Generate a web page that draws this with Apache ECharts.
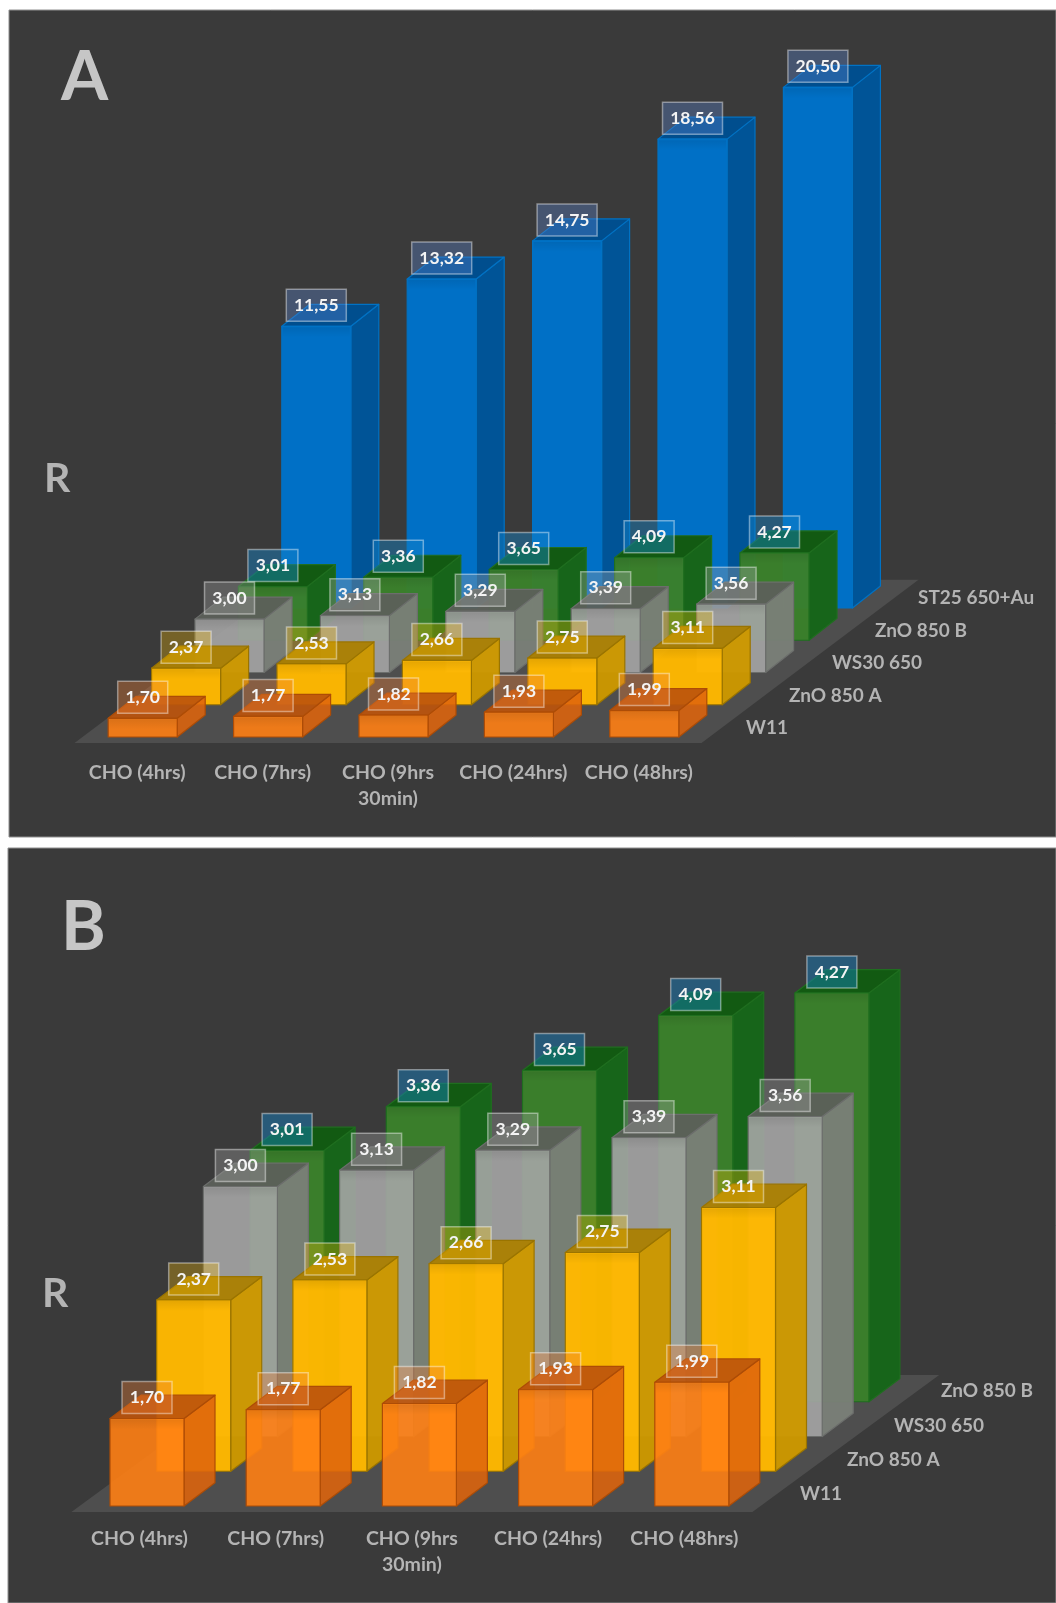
<!DOCTYPE html>
<html>
<head>
<meta charset="utf-8">
<style>html,body{margin:0;padding:0;background:#fff}#chart{width:1056px;height:1603px}</style>
<script src="https://cdn.jsdelivr.net/npm/echarts@6/dist/echarts.min.js"></script>
</head>
<body>
<div id="chart"></div>
<script>
// Sampling times shared by both panels
const categories = ['CHO (4hrs)', 'CHO (7hrs)', 'CHO (9hrs\n30min)', 'CHO (24hrs)', 'CHO (48hrs)'];

// R values per device
const w11 = [1.70, 1.77, 1.82, 1.93, 1.99];
const znoA = [2.37, 2.53, 2.66, 2.75, 3.11];
const ws30 = [3.00, 3.13, 3.29, 3.39, 3.56];
const znoB = [3.01, 3.36, 3.65, 4.09, 4.27];
const st25 = [11.55, 13.32, 14.75, 18.56, 20.50];

const rowNames = ['W11', 'ZnO 850 A', 'WS30 650', 'ZnO 850 B', 'ST25 650+Au'];
const rowValues = [w11, znoA, ws30, znoB, st25];

const axisMin = 1;
const textFont = 'Lato';
const textColor = '#b4b4b4';

// Face colours, front to back along the depth axis
const palette = [
  { front: 'rgba(255,128,20,0.9)', side: 'rgba(222,100,12,0.88)', top: 'rgba(188,84,12,0.92)', edge: '#ad4c06', tag: 'rgba(237,125,49,0.36)' },
  { front: 'rgba(255,184,0,0.97)', side: 'rgba(204,152,0,0.97)', top: 'rgba(170,128,4,0.97)', edge: '#9a7400', tag: 'rgba(255,192,0,0.3)' },
  { front: 'rgba(165,165,165,0.9)', side: 'rgba(122,128,120,0.95)', top: 'rgba(92,96,90,0.95)', edge: '#6c6e6c', tag: 'rgba(165,165,165,0.34)' },
  { front: 'rgba(58,128,42,0.97)', side: '#17651a', top: '#125a12', edge: '#1f6e1f', tag: 'rgba(20,130,200,0.45)' },
  { front: '#0070c6', side: '#005497', top: '#004e8e', edge: '#0072c4', tag: 'rgba(90,130,200,0.38)' }
];

// Oblique projection settings for each panel
const panelA = {
  rows: 5, max: 22, grid: { left: 74.5, width: 627, top: 182.3, height: 560.7 },
  rowDx: 43.4, rowDy: 32.25, boxDx: 28, boxDy: 22, barW: 69, floorExtra: 2,
  shiftX: 5.5, shiftY: 6, nameDx: 44.5, nameDy: 15, nameStepX: 43, nameStepY: 32.5, labelMargin: 17
};
const panelB = {
  rows: 4, max: 6, grid: { left: 71.4, width: 681, top: 887, height: 625 },
  rowDx: 46.7, rowDy: 34.75, boxDx: 31, boxDy: 23.3, barW: 74, floorExtra: -2,
  shiftX: 7.5, shiftY: 6, nameDx: 47.6, nameDy: 18, nameStepX: 47, nameStepY: 34.3, labelMargin: 14
};
const panels = [panelA, panelB];

const fmt = v => v.toFixed(2).replace('.', ',');

function floorItem(panel) {
  return function (params, api) {
    const band = api.size([1, 0])[0];
    const o = api.coord([0, axisMin]);
    const l = o[0] - band / 2;
    const r = l + band * categories.length;
    const y = o[1];
    const dx = panel.rows * panel.rowDx;
    const dy = panel.rows * panel.rowDy + panel.floorExtra;
    return {
      type: 'polygon',
      shape: { points: [[l, y], [r, y], [r + dx, y - dy], [l + dx, y - dy]] },
      style: { fill: '#4e4e4e' }
    };
  };
}

function boxItem(panel, row) {
  const c = palette[row];
  return function (params, api) {
    const cat = api.value(0);
    const top = api.coord([cat, api.value(1)]);
    const base = api.coord([cat, axisMin]);
    const x0 = top[0] + panel.shiftX + row * panel.rowDx - panel.barW / 2;
    const x1 = x0 + panel.barW;
    const lift = panel.shiftY + row * panel.rowDy;
    const yt = top[1] - lift;
    const yb = base[1] - lift;
    const dx = panel.boxDx, dy = panel.boxDy;
    const face = (points, fill) => ({
      type: 'polygon', shape: { points },
      style: { fill, stroke: c.edge, lineWidth: 1.2, lineJoin: 'round' }
    });
    return {
      type: 'group',
      children: [
        face([[x1, yt], [x1 + dx, yt - dy], [x1 + dx, yb - dy], [x1, yb]], c.side),
        face([[x0, yt], [x1, yt], [x1 + dx, yt - dy], [x0 + dx, yt - dy]], c.top),
        face([[x0, yt], [x1, yt], [x1, yb], [x0, yb]], c.front),
        // Soft shade along the top of the front face
        { type: 'rect',
          shape: { x: x0 + 1, y: yt + 1, width: panel.barW - 2, height: Math.min(10, yb - yt - 2) },
          style: { fill: new echarts.graphic.LinearGradient(0, 0, 0, 1, [
            { offset: 0, color: 'rgba(0,0,0,0.08)' }, { offset: 1, color: 'rgba(0,0,0,0)' }
          ]) } }
      ]
    };
  };
}

function tagItem(panel, row) {
  const c = palette[row];
  return function (params, api) {
    const v = api.value(1);
    const p = api.coord([api.value(0), v]);
    const text = fmt(v);
    const w = text.length > 4 ? 60 : 50;
    const h = 32;
    const cx = p[0] + panel.shiftX + row * panel.rowDx;
    const cy = p[1] - panel.shiftY - row * panel.rowDy - 21;
    return {
      type: 'group',
      children: [
        { type: 'rect', shape: { x: cx - w / 2, y: cy - h / 2, width: w, height: h },
          style: { fill: c.tag, stroke: 'rgba(255,255,255,0.42)', lineWidth: 1.5 } },
        { type: 'text', style: { x: cx, y: cy, text, align: 'center', verticalAlign: 'middle',
          fill: '#f4f4f4', font: 'bold 17.5px ' + textFont } }
      ]
    };
  };
}

function rowNameItem(panel) {
  return function (params, api) {
    const row = params.dataIndex;
    const band = api.size([1, 0])[0];
    const o = api.coord([categories.length - 1, axisMin]);
    return {
      type: 'text',
      style: {
        x: o[0] + band / 2 + panel.nameDx + row * panel.nameStepX,
        y: o[1] - panel.nameDy - row * panel.nameStepY,
        text: rowNames[row], align: 'left', verticalAlign: 'middle',
        fill: textColor, font: 'bold 19px ' + textFont
      }
    };
  };
}

const series = [];
panels.forEach((panel, idx) => {
  const axes = { coordinateSystem: 'cartesian2d', xAxisIndex: idx, yAxisIndex: idx, silent: true, encode: { x: 0, y: 1 } };
  series.push(Object.assign({}, axes, { type: 'custom', z: 2, data: [[categories[0], axisMin]], renderItem: floorItem(panel) }));
  for (let row = panel.rows - 1; row >= 0; row--) {
    const data = rowValues[row].map((v, i) => [categories[i], v]);
    series.push(Object.assign({}, axes, { type: 'custom', name: rowNames[row], z: 3, data, renderItem: boxItem(panel, row) }));
  }
  for (let row = panel.rows - 1; row >= 0; row--) {
    const data = rowValues[row].map((v, i) => [categories[i], v]);
    series.push(Object.assign({}, axes, { type: 'custom', z: 5, data, renderItem: tagItem(panel, row) }));
  }
  series.push(Object.assign({}, axes, {
    type: 'custom', z: 4,
    data: rowNames.slice(0, panel.rows).map(() => [categories[0], axisMin]),
    renderItem: rowNameItem(panel)
  }));
});

const option = {
  animation: false,
  backgroundColor: '#ffffff',
  graphic: [
    { type: 'rect', z: -10, shape: { x: 9, y: 10, width: 1047, height: 827 }, style: { fill: '#3a3a3a', stroke: '#8f8f8f', lineWidth: 1 } },
    { type: 'rect', z: -10, shape: { x: 8, y: 848, width: 1048, height: 755 }, style: { fill: '#3a3a3a', stroke: '#8f8f8f', lineWidth: 1 } }
  ],
  title: [
    { text: 'A', left: 56, top: 33, textStyle: { fontFamily: textFont, fontWeight: 'bold', fontSize: 68, lineHeight: 80, color: '#c6c6c6' } },
    { text: 'B', left: 56, top: 883, textStyle: { fontFamily: textFont, fontWeight: 'bold', fontSize: 68, lineHeight: 80, color: '#c6c6c6' } },
    { text: 'R', left: 39, top: 449, textStyle: { fontFamily: textFont, fontWeight: 'bold', fontSize: 41, lineHeight: 50, color: '#b4b4b4' } },
    { text: 'R', left: 37, top: 1264, textStyle: { fontFamily: textFont, fontWeight: 'bold', fontSize: 41, lineHeight: 50, color: '#b4b4b4' } }
  ],
  grid: panels.map(p => Object.assign({ containLabel: false }, p.grid)),
  xAxis: panels.map((p, i) => ({
    type: 'category', gridIndex: i, data: categories,
    axisLine: { show: false }, axisTick: { show: false }, splitLine: { show: false },
    axisLabel: { show: true, interval: 0, margin: p.labelMargin, color: textColor, fontFamily: textFont, fontWeight: 'bold', fontSize: 19.5, lineHeight: 26 }
  })),
  yAxis: panels.map((p, i) => ({
    type: 'value', gridIndex: i, min: axisMin, max: p.max, show: false, splitLine: { show: false }
  })),
  series
};

echarts.init(document.getElementById('chart'), null, { renderer: 'canvas' }).setOption(option);
</script>
</body>
</html>
